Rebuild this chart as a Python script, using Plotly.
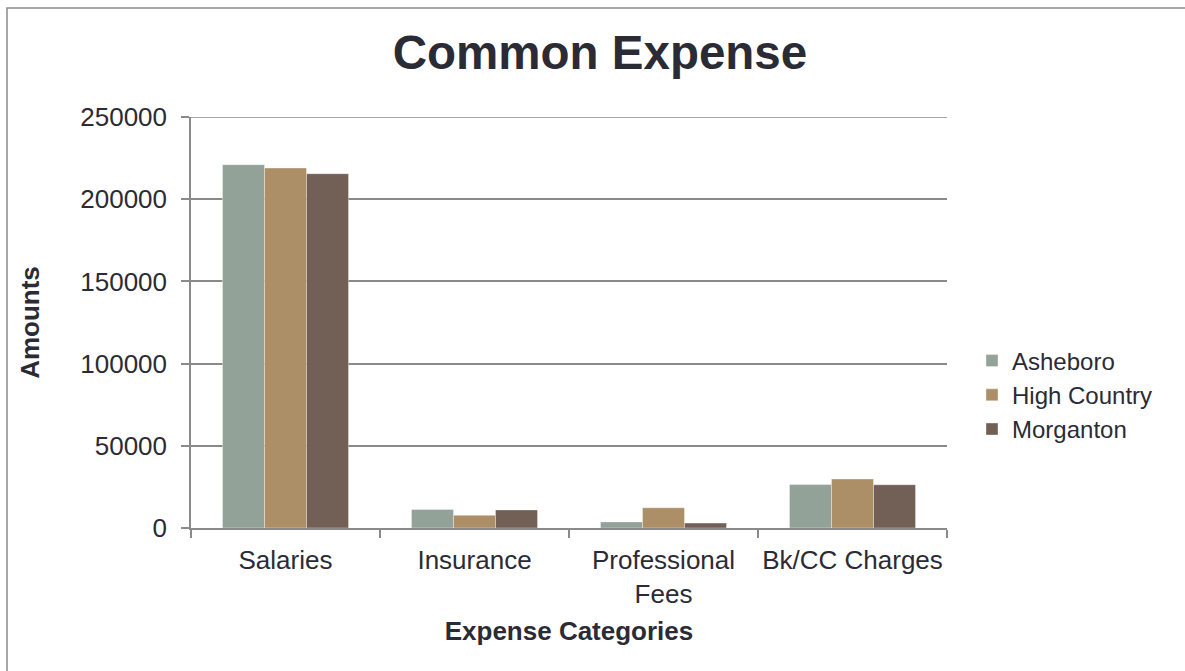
import plotly.graph_objects as go

categories = ["Salaries", "Insurance", "Professional Fees", "Bk/CC Charges"]
tick_labels = ["Salaries", "Insurance", "Professional<br>Fees", "Bk/CC Charges"]
series_names = ["Asheboro", "High Country", "Morganton"]
asheboro = [221000, 11200, 3700, 26400]
high_country = [219000, 7700, 12300, 29800]
morganton = [215500, 11000, 3000, 26300]
colors = ["#93A299", "#AD8F67", "#726056"]
y_ticks = [0, 50000, 100000, 150000, 200000, 250000]

TXT = "#2b2b35"
GRID = "#8a8a8a"
FONT = "Liberation Sans, Arial, sans-serif"

fig = go.Figure()
for name, vals, col in zip(series_names, [asheboro, high_country, morganton], colors):
    fig.add_trace(go.Bar(
        x=categories, y=vals, name=name,
        marker=dict(color=col, line=dict(color="rgba(255,255,255,0.6)", width=0.6)),
    ))

W, H = 1185, 671
L, R, T, B = 191, 947, 117, 528

def px(xp):
    return (xp - L) / (R - L)

def py(yp):
    return (B - yp) / (B - T)

fig.update_layout(
    width=W, height=H,
    margin=dict(l=L, r=W - R, t=T, b=H - B, pad=0, autoexpand=False),
    paper_bgcolor="white", plot_bgcolor="white",
    font=dict(family=FONT, size=26, color=TXT),
    barmode="group", bargap=0.333, bargroupgap=0,
    title=dict(text="<b>Common Expense</b>", font=dict(size=47.5, color=TXT, family=FONT),
               x=600 / W, xanchor="center", xref="container",
               y=1 - 52 / H, yanchor="middle", yref="container"),
    legend=dict(x=px(972), xanchor="left", y=py(395), yanchor="middle",
                font=dict(size=24, color=TXT), bgcolor="rgba(0,0,0,0)",
                tracegroupgap=0),
    showlegend=True,
    shapes=[
        dict(type="rect", xref="paper", yref="paper",
             x0=px(7), x1=px(1400), y0=py(800), y1=py(8),
             line=dict(color="#8c8c8c", width=1.5), layer="below"),
        dict(type="line", xref="paper", yref="y",
             x0=0, x1=1, y0=y_ticks[-1], y1=y_ticks[-1],
             line=dict(color=GRID, width=1.5), layer="below"),
    ],
)

fig.update_xaxes(
    tickmode="array", tickvals=categories, ticktext=tick_labels, tickangle=0,
    automargin=False,
    showline=True, linecolor=GRID, linewidth=1.5,
    ticks="outside", tickson="boundaries", ticklen=8, tickcolor=GRID, tickwidth=1.5,
    showgrid=False,
    tickfont=dict(size=26, color=TXT), ticklabelstandoff=8,
    title=dict(text="<b>Expense Categories</b>", font=dict(size=26, color=TXT), standoff=14),
)
fig.update_yaxes(
    range=[0, 250000], tickmode="array", tickvals=y_ticks,
    ticktext=[str(v) for v in y_ticks],
    automargin=False,
    showline=True, linecolor=GRID, linewidth=1.5,
    ticks="outside", ticklen=8, tickcolor=GRID, tickwidth=1.5,
    showgrid=True, gridcolor=GRID, gridwidth=1.5,
    zeroline=False,
    tickfont=dict(size=26, color=TXT), ticklabelstandoff=9,
    title=dict(text="<b>Amounts</b>", font=dict(size=26, color=TXT), standoff=33),
)

fig.write_html("out.html")
